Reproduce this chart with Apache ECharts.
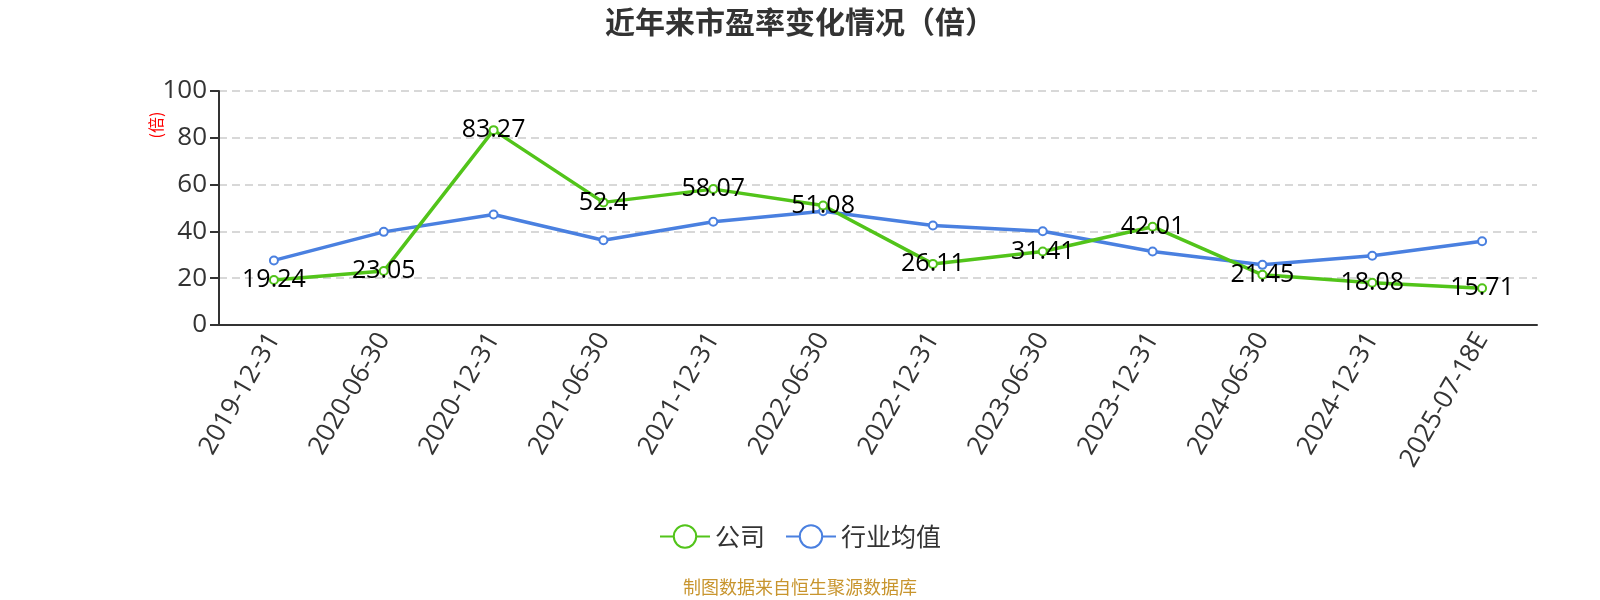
<!DOCTYPE html>
<html>
<head>
<meta charset="utf-8">
<script src="https://cdn.jsdelivr.net/npm/echarts@6/dist/echarts.min.js"></script>
<style>
  html, body { margin: 0; padding: 0; background: #fff; }
  #main { width: 1600px; height: 600px; }
</style>
</head>
<body>
<div id="main"></div>
<script>
var categories = ['2019-12-31', '2020-06-30', '2020-12-31', '2021-06-30', '2021-12-31', '2022-06-30',
  '2022-12-31', '2023-06-30', '2023-12-31', '2024-06-30', '2024-12-31', '2025-07-18E']
var companyPE = [19.24, 23.05, 83.27, 52.4, 58.07, 51.08, 26.11, 31.41, 42.01, 21.45, 18.08, 15.71]
var industryPE = [27.6, 39.8, 47.2, 36.2, 44.1, 48.6, 42.5, 40.1, 31.4, 25.7, 29.6, 35.8]
var yTicks = { min: 0, max: 100, interval: 20 }

var fontFamily = '"Open Sans", "Noto Sans CJK SC", sans-serif'
var chart = echarts.init(document.getElementById('main'), null, {renderer: 'canvas'})

var option = {
  textStyle: { fontFamily: fontFamily },
  title: {
    text: '近年来市盈率变化情况（倍）',
    left: 'center',
    top: 2,
    textStyle: {
      fontFamily: '"Noto Sans CJK SC", sans-serif',
      fontSize: 30,
      fontWeight: 'bold',
      color: '#333'
    }
  },
  graphic: [{
    type: 'text',
    x: 156,
    y: 125,
    rotation: Math.PI / 2,
    style: {
      text: '(倍)',
      fill: '#ff0000',
      font: '16px "Noto Sans CJK SC", sans-serif',
      textAlign: 'center',
      textVerticalAlign: 'middle'
    }
  }, {
    type: 'text',
    left: 'center',
    top: 578,
    style: {
      text: '制图数据来自恒生聚源数据库',
      fill: '#c8952e',
      font: '18px "Noto Sans CJK SC", sans-serif'
    }
  }],
  legend: {
    top: 519,
    left: 'center',
    itemWidth: 50,
    itemHeight: 28,
    itemGap: 20,
    textStyle: {
      fontSize: 25,
      color: '#333',
      fontFamily: '"Noto Sans CJK SC", sans-serif'
    },
    data: ['公司', '行业均值']
  },
  grid: {
    left: 219,
    right: 63,
    top: 91,
    bottom: 275
  },
  xAxis: {
    type: 'category',
    data: categories,
    axisLine: { lineStyle: { color: '#333', width: 2 } },
    axisTick: { length: 10, lineStyle: { color: '#333', width: 2 } },
    axisLabel: {
      rotate: 60,
      fontSize: 26,
      color: '#333',
      margin: 10
    }
  },
  yAxis: {
    type: 'value',
    min: yTicks.min,
    max: yTicks.max,
    interval: yTicks.interval,
    axisLine: { show: true, lineStyle: { color: '#333', width: 2 } },
    axisTick: { show: true, length: 9, lineStyle: { color: '#333', width: 2 } },
    axisLabel: { fontSize: 26, color: '#333', margin: 12 },
    splitLine: {
      lineStyle: { color: '#cccccc', type: [8, 5], width: 1.5 }
    }
  },
  series: [{
    name: '公司',
    type: 'line',
    data: companyPE,
    symbol: 'emptyCircle',
    symbolSize: 8,
    color: '#52c41a',
    lineStyle: { width: 3.5 },
    label: {
      show: true,
      position: 'inside',
      fontSize: 25,
      color: '#000'
    },
    z: 3
  }, {
    name: '行业均值',
    type: 'line',
    data: industryPE,
    symbol: 'emptyCircle',
    symbolSize: 8,
    color: '#4a80e0',
    lineStyle: { width: 3.5 },
    z: 2
  }]
}

chart.setOption(option)
</script>
</body>
</html>
